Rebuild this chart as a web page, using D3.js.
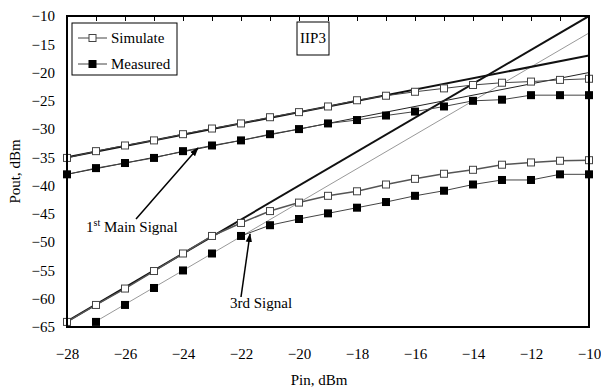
<!DOCTYPE html>
<html>
<head>
<meta charset="utf-8">
<script src="https://cdn.jsdelivr.net/npm/d3@7"></script>
<style>
  body { margin: 0; background: #fff; }
</style>
</head>
<body>
<div id="chart"></div>
<script>
var fontFamily = "'Liberation Serif', 'DejaVu Serif', 'Times New Roman', serif";

// Input power, dBm
var pin = [-28, -27, -26, -25, -24, -23, -22, -21, -20, -19, -18, -17, -16, -15, -14, -13, -12, -11, -10];

// Output power, dBm
var simMain = [-35.1, -33.9, -32.9, -32.0, -30.9, -29.9, -29.0, -27.9, -27.0, -26.0, -24.9, -24.1, -23.4, -22.8, -22.2, -21.8, -21.6, -21.3, -21.1];
var measMain = [-38.0, -36.9, -36.0, -35.1, -33.9, -32.9, -32.0, -30.9, -30.0, -29.0, -28.4, -27.6, -26.9, -26.0, -25.0, -24.8, -24.0, -24.0, -24.0];
var sim3rd = [-64.1, -61.1, -58.2, -55.1, -52.0, -48.9, -46.6, -44.5, -43.0, -41.8, -41.0, -39.8, -38.8, -37.9, -37.2, -36.3, -35.9, -35.6, -35.5];
// measured 3rd starts at -27 (the -28 point is below the axis)
var meas3rdPin = pin.slice(1);
var meas3rd = [-64.1, -61.1, -58.1, -55.0, -52.0, -48.9, -47.0, -45.9, -44.9, -43.9, -42.9, -41.8, -40.9, -39.8, -39.0, -39.0, -38.0, -38.0];

// extrapolated lines for IIP3
var simMainFit = [[-28, -35], [-10, -17]];
var measMainFit = [[-28, -38], [-10, -20]];
var sim3rdFit = [[-28, -64], [-10, -10]];
var meas3rdFit = [[-27, -64], [-10, -13]];

var xTicks = [-28, -26, -24, -22, -20, -18, -16, -14, -12, -10];
var yTicks = [-10, -15, -20, -25, -30, -35, -40, -45, -50, -55, -60, -65];

var width = 601, height = 392;
var margin = { top: 16, right: 12, bottom: 65, left: 67 };
var innerWidth = width - margin.left - margin.right;
var innerHeight = height - margin.top - margin.bottom;

var svg = d3.select("#chart").append("svg")
  .attr("width", width)
  .attr("height", height)
  .attr("font-family", fontFamily);

var defs = svg.append("defs");
defs.append("clipPath").attr("id", "clip")
  .append("rect").attr("width", innerWidth).attr("height", innerHeight);
defs.append("marker")
  .attr("id", "arrow")
  .attr("viewBox", "0 0 10 10")
  .attr("refX", 9).attr("refY", 5)
  .attr("markerWidth", 9).attr("markerHeight", 9)
  .attr("markerUnits", "userSpaceOnUse")
  .attr("orient", "auto")
  .append("path").attr("d", "M0,1.5 L10,5 L0,8.5 Z").attr("fill", "#000");

var g = svg.append("g").attr("transform", "translate(" + margin.left + "," + margin.top + ")");

var x = d3.scaleLinear().domain([-28, -10]).range([0, innerWidth]);
var y = d3.scaleLinear().domain([-65, -10]).range([innerHeight, 0]);

// tick labels
var xAxis = d3.axisBottom(x).tickValues(xTicks).tickSize(0).tickPadding(21);
g.append("g").attr("transform", "translate(0," + innerHeight + ")").call(xAxis)
  .attr("font-family", fontFamily).attr("font-size", 15)
  .call(s => s.select(".domain").remove());

var yAxis = d3.axisLeft(y).tickValues(yTicks).tickSize(0).tickPadding(12);
g.append("g").call(yAxis)
  .attr("font-family", fontFamily).attr("font-size", 15)
  .call(s => s.select(".domain").remove());

// small inward ticks along the top edge
var topAxis = d3.axisTop(x).tickValues(d3.range(-28, -9, 1)).tickSize(-5).tickFormat("");
g.append("g").call(topAxis)
  .call(s => s.select(".domain").remove())
  .selectAll("line").attr("stroke", "#000").attr("stroke-width", 1);

var plot = g.append("g").attr("clip-path", "url(#clip)");
var line = d3.line().x(d => x(d[0])).y(d => y(d[1]));

function zip(xs, ys) { return xs.map((v, i) => [v, ys[i]]); }

// extrapolation lines
plot.append("path").attr("d", line(sim3rdFit)).attr("fill", "none").attr("stroke", "#111").attr("stroke-width", 2);
plot.append("path").attr("d", line(meas3rdFit)).attr("fill", "none").attr("stroke", "#999").attr("stroke-width", 1);
plot.append("path").attr("d", line(simMainFit)).attr("fill", "none").attr("stroke", "#111").attr("stroke-width", 2);
plot.append("path").attr("d", line(measMainFit)).attr("fill", "none").attr("stroke", "#222").attr("stroke-width", 1);

// data curves
plot.append("path").attr("d", line(zip(pin, simMain))).attr("fill", "none").attr("stroke", "#444").attr("stroke-width", 1);
plot.append("path").attr("d", line(zip(pin, measMain))).attr("fill", "none").attr("stroke", "#444").attr("stroke-width", 1);
plot.append("path").attr("d", line(zip(pin, sim3rd))).attr("fill", "none").attr("stroke", "#555").attr("stroke-width", 1.5);
plot.append("path").attr("d", line(zip(meas3rdPin, meas3rd).slice(5))).attr("fill", "none").attr("stroke", "#444").attr("stroke-width", 1);

// markers
function openSquares(data) {
  g.append("g").selectAll("rect").data(data).enter().append("rect")
    .attr("x", d => x(d[0]) - 3.5).attr("y", d => y(d[1]) - 3.5)
    .attr("width", 7).attr("height", 7)
    .attr("fill", "#fff").attr("stroke", "#444").attr("stroke-width", 1);
}
function filledSquares(data) {
  g.append("g").selectAll("rect").data(data).enter().append("rect")
    .attr("x", d => x(d[0]) - 4).attr("y", d => y(d[1]) - 4)
    .attr("width", 8).attr("height", 8)
    .attr("fill", "#000");
}
openSquares(zip(pin, simMain));
filledSquares(zip(pin, measMain));
openSquares(zip(pin, sim3rd));
filledSquares(zip(meas3rdPin, meas3rd));

// frame
g.append("rect").attr("width", innerWidth).attr("height", innerHeight)
  .attr("fill", "none").attr("stroke", "#000").attr("stroke-width", 2);

// axis titles
svg.append("text").attr("x", 319).attr("y", 385).attr("text-anchor", "middle")
  .attr("font-size", 15).text("Pin, dBm");
svg.append("text").attr("transform", "translate(20," + (margin.top + innerHeight / 2) + ") rotate(-90)")
  .attr("text-anchor", "middle").attr("font-size", 15).text("Pout, dBm");

// legend
var legend = svg.append("g").attr("transform", "translate(72,23)");
legend.append("rect").attr("width", 105).attr("height", 52)
  .attr("fill", "#fff").attr("stroke", "#000").attr("stroke-width", 1);
var entries = [{ name: "Simulate", filled: false, yy: 15 }, { name: "Measured", filled: true, yy: 41 }];
entries.forEach(function (e) {
  legend.append("line").attr("x1", 6).attr("x2", 35).attr("y1", e.yy).attr("y2", e.yy)
    .attr("stroke", "#444").attr("stroke-width", 1);
  if (e.filled) {
    legend.append("rect").attr("x", 16.5).attr("y", e.yy - 4).attr("width", 8).attr("height", 8).attr("fill", "#000");
  } else {
    legend.append("rect").attr("x", 17).attr("y", e.yy - 3.5).attr("width", 7).attr("height", 7)
      .attr("fill", "#fff").attr("stroke", "#444");
  }
  legend.append("text").attr("x", 39).attr("y", e.yy + 5).attr("font-size", 15).text(e.name);
});

// IIP3 box
var iip = svg.append("g").attr("transform", "translate(297,22)");
iip.append("rect").attr("width", 32).attr("height", 33).attr("fill", "#fff").attr("stroke", "#000").attr("stroke-width", 1);
iip.append("text").attr("x", 16).attr("y", 21).attr("text-anchor", "middle").attr("font-size", 15).text("IIP3");

// annotations
var a1 = svg.append("text").attr("x", 86).attr("y", 232).attr("font-size", 15);
a1.append("tspan").text("1");
a1.append("tspan").attr("font-size", 10).attr("dy", -6).text("st");
a1.append("tspan").attr("dy", 6).text(" Main Signal");
svg.append("line").attr("x1", 136).attr("y1", 219).attr("x2", 198).attr("y2", 148)
  .attr("stroke", "#000").attr("stroke-width", 1.5).attr("marker-end", "url(#arrow)");

svg.append("text").attr("x", 230).attr("y", 308).attr("font-size", 15).text("3rd Signal");
svg.append("line").attr("x1", 241).attr("y1", 297).attr("x2", 250).attr("y2", 234)
  .attr("stroke", "#000").attr("stroke-width", 1.5).attr("marker-end", "url(#arrow)");
</script>
</body>
</html>
